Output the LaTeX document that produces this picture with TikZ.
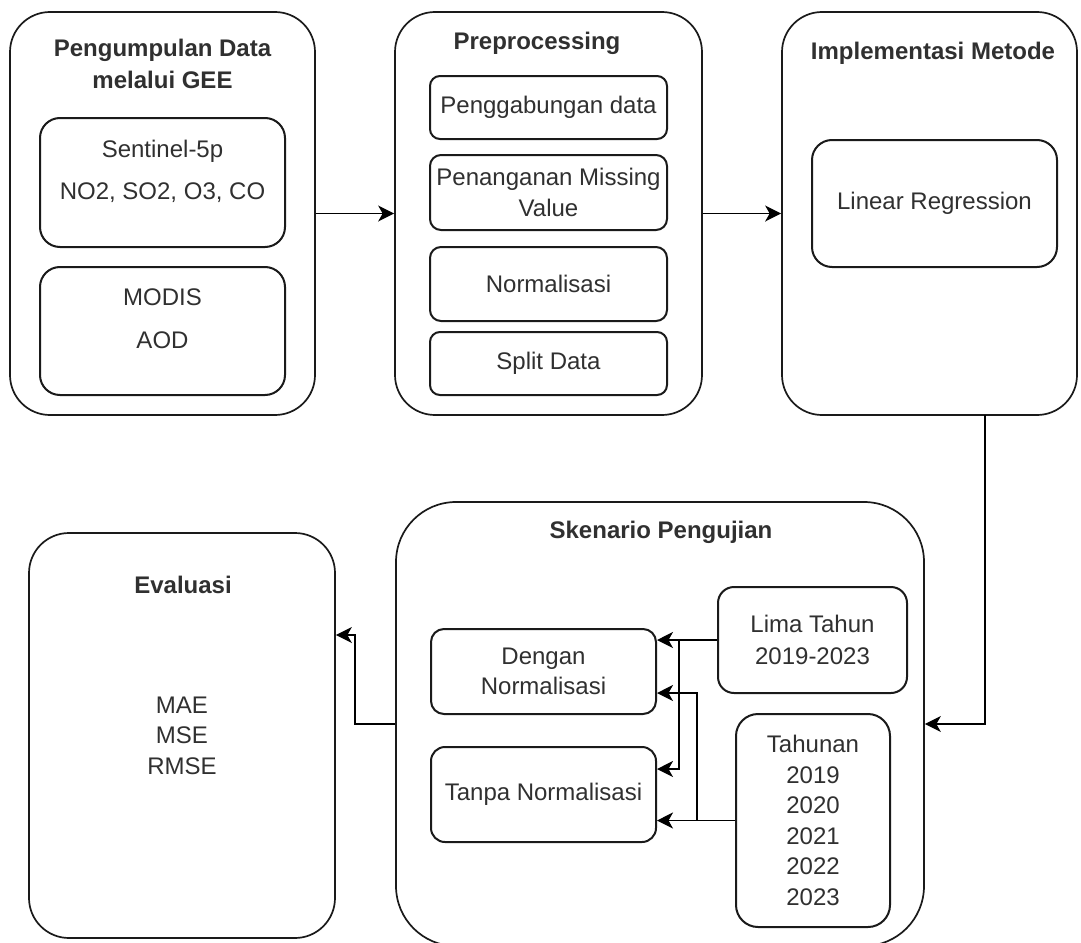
\documentclass[tikz,border=0pt]{standalone}
\usepackage{fontspec}
\setmainfont{Liberation Sans}
\usetikzlibrary{arrows.meta}
\definecolor{txtc}{HTML}{303030}
\definecolor{linec}{HTML}{1A1A1A}
\tikzset{
  outerbox/.style={draw=linec, line width=1.7pt, rounded corners=40pt, inner sep=0pt},
  innerbox/.style={draw=linec, line width=2pt, inner sep=0pt, align=center, text=txtc,
    font=\fontsize{24}{30.5}\selectfont},
  lbl/.style={inner sep=0pt, align=center, text=txtc, font=\fontsize{24}{30.5}\selectfont},
  ttl/.style={inner sep=0pt, align=center, text=txtc, font=\fontsize{24}{32}\selectfont\bfseries},
  arr/.style={draw=black, line width=1.6pt, -{Stealth[length=16pt,width=16pt,inset=4.5pt]}},
}
\begin{document}
\begin{tikzpicture}[x=1pt,y=-1pt]
\useasboundingbox (0,0) rectangle (1081,942);
\fill[white] (0,0) rectangle (1081,942);

% top row outer boxes
\node[outerbox, minimum width=305pt, minimum height=403pt] (B1) at (162.5,213.5) {};
\node[outerbox, minimum width=307pt, minimum height=403pt] (B2) at (548.5,213.5) {};
\node[outerbox, minimum width=295pt, minimum height=403pt] (B3) at (929.5,213.5) {};

% titles top row
\node[ttl] (t1) at (162.5,64) {Pengumpulan Data\\melalui GEE};
\node[ttl] (t2) at (537,43) {Preprocessing};
\node[ttl] (t3) at (933,53) {Implementasi Metode};

% Box 1 contents
\node[innerbox, rounded corners=20pt, minimum width=245pt, minimum height=129pt] (sen) at (162.5,182.5) {};
\node[lbl] (sentxt) at (162.5,171) {Sentinel-5p\\[11.5pt]NO2, SO2, O3, CO};
\node[innerbox, rounded corners=20pt, minimum width=245pt, minimum height=128pt] (mod) at (162.5,331) {};
\node[lbl] (modtxt) at (162.5,318.5) {MODIS\\[12.5pt]AOD};

% Box 2 contents
\node[innerbox, rounded corners=10pt, minimum width=237pt, minimum height=63pt] (p1) at (548.5,107.5) {Penggabungan data};
\node[innerbox, rounded corners=11pt, minimum width=237pt, minimum height=75pt] (p2) at (548.5,192.5) {Penanganan Missing\\Value};
\node[innerbox, rounded corners=11pt, minimum width=237pt, minimum height=74pt] (p3) at (548.5,284) {Normalisasi};
\node[innerbox, rounded corners=10pt, minimum width=237pt, minimum height=63pt] (p4) at (548.5,363.5) {Split Data};

% Box 3 contents
\node[innerbox, rounded corners=20pt, minimum width=245pt, minimum height=127pt] (lr) at (934.5,203.5) {Linear Regression};

% bottom row
\node[outerbox, lbl, draw=linec, minimum width=306pt, minimum height=405pt] (E) at (182,735.5) {MAE\\MSE\\RMSE};
\node[ttl] (te) at (183,585) {Evaluasi};
\node[outerbox, rounded corners=60pt, minimum width=528pt, minimum height=444pt] (S) at (660,724) {};
\node[ttl] (ts) at (661,532) {Skenario Pengujian};

\node[innerbox, rounded corners=13pt, minimum width=225pt, minimum height=85pt] (D) at (543.5,671.5) {Dengan\\Normalisasi};
\node[innerbox, rounded corners=14pt, minimum width=225pt, minimum height=95pt] (T) at (543.5,794.5) {Tanpa Normalisasi};
\node[innerbox, rounded corners=16pt, minimum width=189pt, minimum height=106pt, font=\fontsize{24}{32}\selectfont] (L) at (812.5,640) {Lima Tahun\\2019-2023};
\node[innerbox, rounded corners=22pt, minimum width=154pt, minimum height=213pt] (Y) at (813,820.5) {Tahunan\\2019\\2020\\2021\\2022\\2023};

% connectors
\draw[arr] (B1.east) -- (B2.west);
\draw[arr] (B2.east) -- (B3.west);
\coordinate (a3) at (985,415);
\draw[arr] (a3) |- (S.east);
\coordinate (k4) at (355,635);
\draw[arr] (S.west) -| (k4) -- (E.east |- k4);

\draw[arr] (L.west) -- (L.west -| D.east);
\coordinate (j1) at (679,640);
\draw[arr] (j1) |- (T.east |- 0,769);
\draw[arr] (Y.west) -- (Y.west -| T.east);
\coordinate (j2) at (697,820.5);
\draw[arr] (j2) |- (D.east |- 0,693);
\end{tikzpicture}
\end{document}
